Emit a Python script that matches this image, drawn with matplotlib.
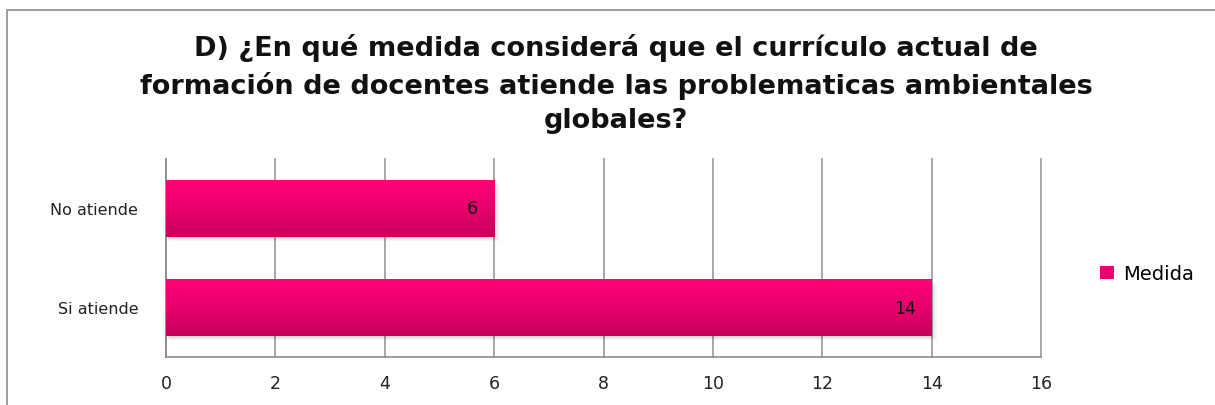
import numpy as np
import matplotlib.pyplot as plt
from matplotlib.patches import Rectangle
from matplotlib.colors import LinearSegmentedColormap

categorias = ['Si atiende', 'No atiende']
valores = [14, 6]
serie = 'Medida'
titulo = 'D) ¿En qué medida considerá que el currículo actual de\nformación de docentes atiende las problematicas ambientales\nglobales?'

fig = plt.figure(figsize=(12.15, 4.06), dpi=100)
ax = fig.add_axes([166 / 1215, 1 - 358 / 406, 875 / 1215, 198 / 406])

# marco exterior del grafico
fig.patches.append(Rectangle((7 / 1215, -0.01), 1.02, 1 - 11 / 406 + 0.01, transform=fig.transFigure,
                             fill=False, edgecolor='#8c8c8c', linewidth=1.2))

rosa = LinearSegmentedColormap.from_list('rosa', ['#ff0078', '#e8006c', '#c4005a'])
grad = np.linspace(0, 1, 100).reshape(-1, 1)
alto = 0.57
y = np.arange(len(categorias))

bars = ax.barh(y, valores, height=alto, color='#e8006c', label=serie, zorder=2)
for b, v in zip(bars, valores):
    x0, y0 = b.get_x(), b.get_y()
    # sombra suave
    for k in range(4):
        ax.add_patch(Rectangle((x0 + 0.02 * k, y0 - 0.012 * (k + 1)), v + 0.015 * k, alto, color='#000000',
                               alpha=0.04, zorder=1.5, lw=0))
    ax.imshow(grad, cmap=rosa, aspect='auto', extent=(x0, x0 + v, y0, y0 + alto), zorder=3)
    ax.text(v - 0.29, y0 + alto / 2, str(v), ha='right', va='center', fontsize=12.5, color='#111111', zorder=4)

ax.set_xlim(0, 16)
ax.set_ylim(-0.5, 1.5)
ax.set_xticks(range(0, 17, 2))
ax.set_yticks(y)
ax.set_yticklabels(categorias)
ax.tick_params(axis='y', length=0, labelsize=11.5, colors='#222222', pad=20)
ax.tick_params(axis='x', length=0, labelsize=12.5, colors='#222222', pad=12)
ax.grid(axis='x', color='#a0a0a0', linewidth=1.3, zorder=0)
for gl in ax.get_xgridlines():
    gl.set_clip_on(False)
ax.set_axisbelow(True)
ax.spines['top'].set_visible(False)
ax.spines['right'].set_visible(False)
for s in ['left', 'bottom']:
    ax.spines[s].set_color('#8c8c8c')
    ax.spines[s].set_linewidth(1.2)

fig.legend(*ax.get_legend_handles_labels(), loc='center left', bbox_to_anchor=(1082 / 1215, 1 - 275 / 406),
           frameon=False, fontsize=14, handlelength=0.75, handleheight=0.6, handletextpad=0.45)

fig.text(0.507, 0.916, titulo, ha='center', va='top', fontsize=19.5, fontweight='bold',
         color='#111111', linespacing=1.43)

fig.savefig('out.png', dpi=100)
